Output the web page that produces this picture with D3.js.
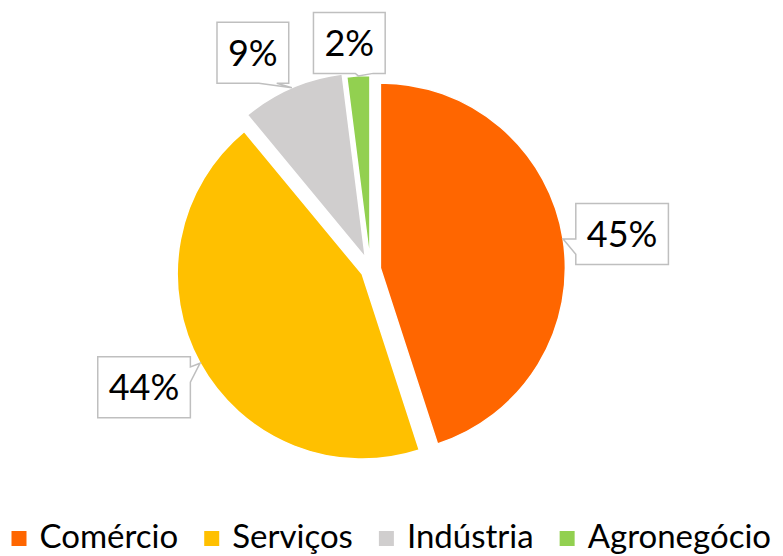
<!DOCTYPE html>
<html>
<head>
<meta charset="utf-8">
<script src="https://cdn.jsdelivr.net/npm/d3@7"></script>
<style>
  body { margin: 0; background: #fff; }
  text { font-family: Lato, "Open Sans", sans-serif; fill: #000; }
</style>
</head>
<body>
<svg id="chart" width="783" height="556"></svg>
<script>
/* Data */
var sectors = ["Comércio", "Serviços", "Indústria", "Agronegócio"];
var shares = [45, 44, 9, 2];
var sliceColors = ["#FF6600", "#FFC000", "#D0CECE", "#92D050"];

/* Layout */
var cx = 370.5, cy = 269.5, radius = 185;
// how far each slice is pulled out of the pie
var explode = [10, 9.5, 13, 9];
// box centre relative to the callout tip
var calloutShift = [[59, -5], [-56, 24], [-39, -35], [-9, -33]];
var boxHeight = 61, boxPad = 11;

var svg = d3.select("#chart");

var pieData = d3.pie().sort(null).value(d => d)(shares);
var arc = d3.arc().innerRadius(0).outerRadius(radius);

function midAngle(d) { return (d.startAngle + d.endAngle) / 2; }
function offset(d, i) {
    var a = midAngle(d);
    return [explode[i] * Math.sin(a), -explode[i] * Math.cos(a)];
}

// draw slices
var pieG = svg.append("g").attr("transform", "translate(" + cx + "," + cy + ")");
pieG.selectAll("path")
    .data(pieData)
    .enter().append("path")
        .attr("d", arc)
        .attr("fill", (d, i) => sliceColors[i])
        .attr("stroke", "#fff")
        .attr("stroke-width", 1.5)
        .attr("transform", (d, i) => "translate(" + offset(d, i) + ")");

// callout shape like Excel's wedgeRectCallout
function calloutPath(x0, y0, w, h, tx, ty) {
    var x1 = x0 + w, y1 = y0 + h;
    var dx = tx - (x0 + w / 2), dy = ty - (y0 + h / 2);
    var pts;
    if (Math.abs(dx) * h > Math.abs(dy) * w) {
        var ya = y0 + h * (dy > 0 ? 7 : 2) / 12, yb = y0 + h * (dy > 0 ? 10 : 5) / 12;
        if (dx < 0) pts = [[x0, y0], [x1, y0], [x1, y1], [x0, y1], [x0, yb], [tx, ty], [x0, ya]];
        else pts = [[x0, y0], [x1, y0], [x1, ya], [tx, ty], [x1, yb], [x1, y1], [x0, y1]];
    } else {
        var xa = x0 + w * (dx > 0 ? 7 : 2) / 12, xb = x0 + w * (dx > 0 ? 10 : 5) / 12;
        if (dy > 0) pts = [[x0, y0], [x1, y0], [x1, y1], [xb, y1], [tx, ty], [xa, y1], [x0, y1]];
        else pts = [[x0, y0], [xa, y0], [tx, ty], [xb, y0], [x1, y0], [x1, y1], [x0, y1]];
    }
    return "M" + pts.map(p => p.join(",")).join("L") + "Z";
}

// data labels
var labelG = svg.append("g");
pieData.forEach(function (d, i) {
    var a = midAngle(d), off = offset(d, i);
    var tx = cx + off[0] + radius * Math.sin(a);
    var ty = cy + off[1] - radius * Math.cos(a);
    var bx = tx + calloutShift[i][0], by = ty + calloutShift[i][1];

    var g = labelG.append("g");
    var box = g.append("path");
    var t = g.append("text")
        .attr("x", bx)
        .attr("y", by)
        .attr("dy", "0.36em")
        .attr("text-anchor", "middle")
        .style("font-size", "36px")
        .text(shares[i] + "%");
    var w = t.node().getComputedTextLength() + 2 * boxPad;
    box.attr("d", calloutPath(bx - w / 2, by - boxHeight / 2, w, boxHeight, tx, ty))
        .attr("fill", "#fff")
        .attr("stroke", "#BFBFBF")
        .attr("stroke-width", 1.5);
});

// legend
var legendG = svg.append("g");
var items = legendG.selectAll("g")
    .data(sectors)
    .enter().append("g");
items.append("rect")
    .attr("y", 531)
    .attr("width", 15)
    .attr("height", 15)
    .attr("fill", (d, i) => sliceColors[i]);
items.append("text")
    .attr("x", 28)
    .attr("y", 548)
    .style("font-size", "33px")
    .text(d => d);

var xPos = 11.5;
items.each(function () {
    var item = d3.select(this);
    item.attr("transform", "translate(" + xPos + ",0)");
    xPos += 28 + item.select("text").node().getComputedTextLength() + 26;
});
</script>
</body>
</html>
